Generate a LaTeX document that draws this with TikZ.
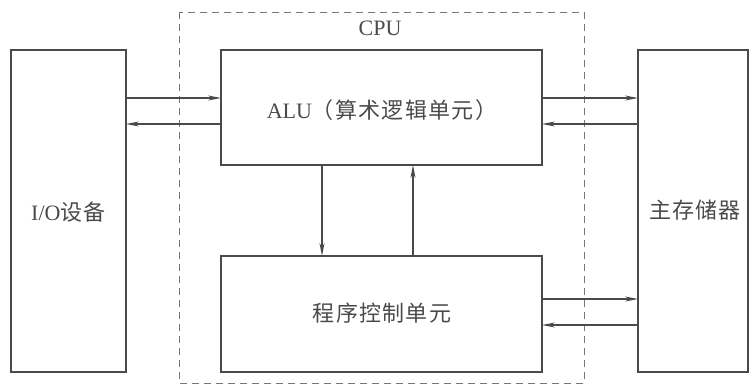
\documentclass[tikz,border=0pt]{standalone}
\usepackage{fontspec}
\setmainfont{Liberation Serif}
\newfontfamily\cjk[LetterSpace=6]{Noto Sans CJK SC}
\usetikzlibrary{arrows.meta}
\definecolor{ink}{HTML}{4A4A4A}
\begin{document}
\begin{tikzpicture}[x=1pt,y=-1pt,
  unit/.style={draw=ink,line width=1.9pt,inner sep=0pt,text=ink},
  link/.style={draw=ink,line width=1.1pt,-{Stealth[length=13pt,width=5pt]}},
  lbl/.style={text=ink,font=\fontsize{22}{25}\selectfont}]
\useasboundingbox (0,0) rectangle (751,384);
\draw[ink!75,line width=1pt,dash pattern=on 7pt off 5pt] (179,12) rectangle (584,383);
\node[lbl] (cpulbl) at (380,28) {CPU};
\path[unit] (11,50) rectangle (126,372);
\node[lbl] (iotext) at (68.5,212) {I/O{\cjk 设备}};
\path[unit] (221,50) rectangle (542,165);
\node[lbl] (alutext) at (382,110) {ALU{\cjk （算术逻辑单元）}};
\path[unit] (221,256) rectangle (542,372);
\node[lbl] (cutext) at (382,313) {\cjk 程序控制单元};
\path[unit] (638,50) rectangle (748,372);
\node[lbl] (memtext) at (695,210) {\cjk 主存储器};
% named anchor points
\coordinate (ioA1) at (126,98); \coordinate (aluL1) at (221,98);
\coordinate (ioA2) at (126,124); \coordinate (aluL2) at (221,124);
\coordinate (aluR1) at (542,98); \coordinate (memA1) at (638,98);
\coordinate (aluR2) at (542,124); \coordinate (memA2) at (638,124);
\coordinate (aluB1) at (322,165); \coordinate (cuT1) at (322,256);
\coordinate (aluB2) at (413,165); \coordinate (cuT2) at (413,256);
\coordinate (cuR1) at (542,299); \coordinate (memB1) at (638,299);
\coordinate (cuR2) at (542,325); \coordinate (memB2) at (638,325);
\draw[link] (ioA1) -- (aluL1);
\draw[link] (aluL2) -- (ioA2);
\draw[link] (aluR1) -- (memA1);
\draw[link] (memA2) -- (aluR2);
\draw[link] (aluB1) -- (cuT1);
\draw[link] (cuT2) -- (aluB2);
\draw[link] (cuR1) -- (memB1);
\draw[link] (memB2) -- (cuR2);
\end{tikzpicture}
\end{document}
